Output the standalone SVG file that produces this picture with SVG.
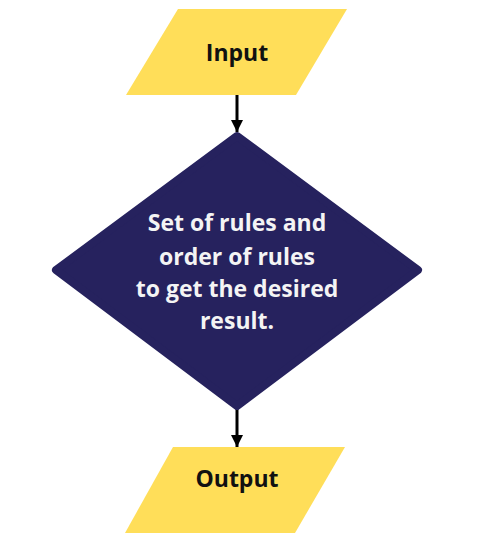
<svg xmlns="http://www.w3.org/2000/svg" width="481" height="537" viewBox="0 0 481 537">
<style>
.io{fill:#FFDE59}
.dec{fill:#26225E;stroke:#26225E;stroke-width:8;stroke-linejoin:round}
.lbl{font-family:"Open Sans","Liberation Sans",sans-serif;font-weight:700;font-size:23px;text-anchor:middle;fill:#111}
.wl{font-family:"Open Sans","Liberation Sans",sans-serif;font-weight:700;font-size:23px;text-anchor:middle;fill:#F4F4F4}
.con{stroke:#000;stroke-width:3;fill:none}
</style>
<defs>
<marker id="ah" viewBox="0 0 10 10" refX="10" refY="5" markerWidth="4" markerHeight="4" orient="auto" markerUnits="strokeWidth">
<path d="M0,0 L10,5 L0,10 z" fill="#000"/>
</marker>
</defs>
<rect width="481" height="537" fill="#fff"/>
<g id="connectors">
<line class="con" x1="237" y1="95" x2="237" y2="132" marker-end="url(#ah)"/>
<line class="con" x1="237" y1="408" x2="237" y2="447" marker-end="url(#ah)"/>
</g>
<g id="input">
<polygon class="io" points="178,9 347,9 296,95 126,95"/>
<text class="lbl" x="237" y="61">Input</text>
</g>
<g id="rules">
<polygon class="dec" points="237,136 418,270 237,406 56,270"/>
<text class="wl" x="237" y="231">Set of rules and</text>
<text class="wl" x="237" y="265">order of rules</text>
<text class="wl" x="237" y="297">to get the desired</text>
<text class="wl" x="237" y="329">result.</text>
</g>
<g id="output">
<polygon class="io" points="173,447 345,447 295,533 125,533"/>
<text class="lbl" x="237" y="487">Output</text>
</g>
</svg>
